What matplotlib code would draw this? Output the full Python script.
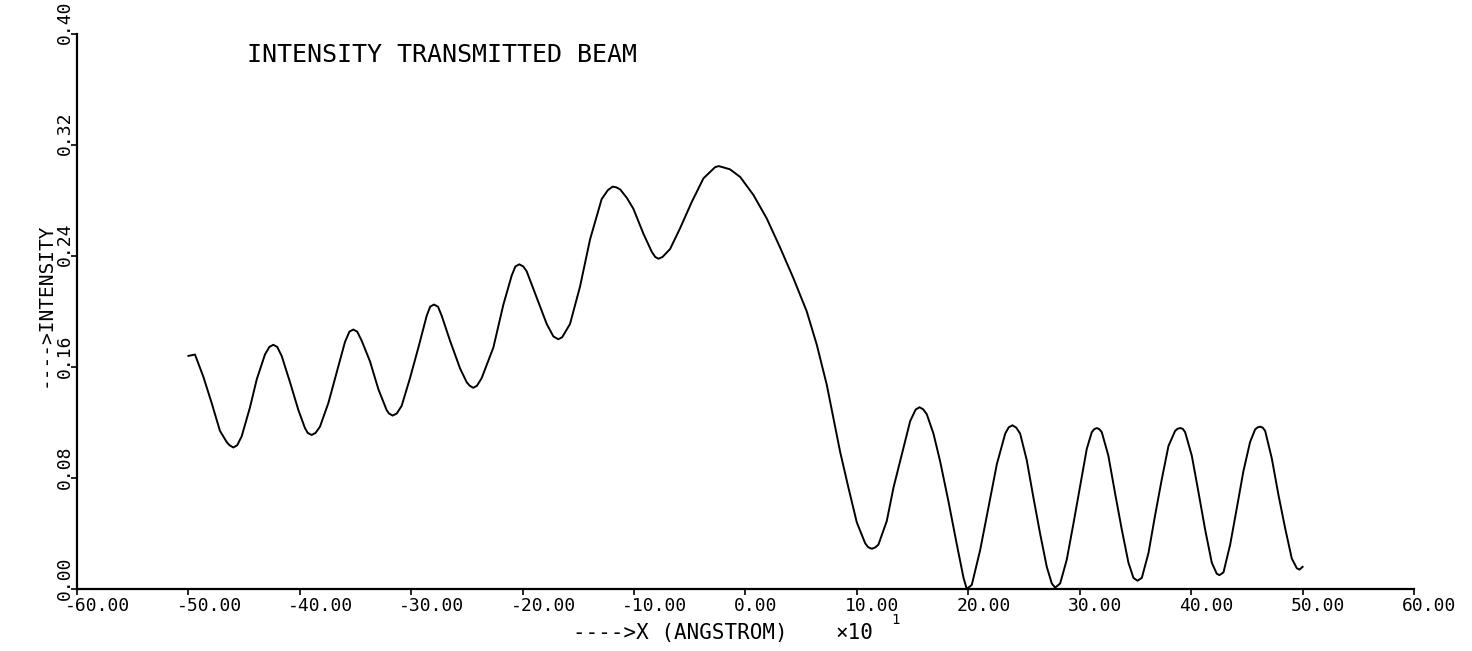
import numpy as np
import matplotlib
matplotlib.use("Agg")
import matplotlib.pyplot as plt
import matplotlib.transforms as mtransforms

plt.rcParams['font.family'] = ['DejaVu Sans Mono', 'DejaVu Sans']

# position along the beam, in units of 10 angstrom
x_pos = [
    -50.00, -49.41, -48.66, -47.91, -47.17, -46.57, -46.32, -45.97, -45.62, -45.22,
    -44.47, -43.87, -43.13, -42.73, -42.38, -42.03, -41.63, -40.88, -40.13, -39.54,
    -39.29, -38.94, -38.59, -38.19, -37.44, -36.69, -35.95, -35.55, -35.20, -34.85,
    -34.45, -33.70, -32.95, -32.21, -32.00, -31.67, -31.30, -30.86, -30.11, -29.36,
    -28.61, -28.30, -27.96, -27.60, -27.27, -26.52, -25.62, -25.02, -24.75, -24.43,
    -24.10, -23.68, -22.63, -21.73, -20.98, -20.65, -20.30, -19.95, -19.64, -18.74,
    -17.84, -17.24, -16.80, -16.45, -15.75, -14.85, -13.95, -12.91, -12.35, -11.92,
    -11.60, -11.25, -10.66, -10.06, -9.16, -8.41, -8.10, -7.81, -7.45, -6.77,
    -5.87, -4.82, -3.77, -2.73, -2.40, -2.04, -1.40, -0.48, 0.71, 1.91,
    3.11, 4.30, 5.50, 6.40, 7.30, 7.90, 8.49, 9.24, 9.99, 10.74,
    11.00, 11.34, 11.65, 11.93, 12.68, 13.28, 14.03, 14.78, 15.27, 15.62,
    15.95, 16.27, 16.87, 17.47, 18.22, 18.97, 19.57, 19.86, 20.31, 21.06,
    21.81, 22.56, 23.31, 23.62, 23.96, 24.30, 24.65, 25.24, 25.84, 26.44,
    27.04, 27.49, 27.79, 28.24, 28.83, 29.43, 30.03, 30.63, 31.08, 31.30,
    31.53, 31.76, 31.98, 32.57, 33.17, 33.77, 34.37, 34.82, 35.18, 35.57,
    36.17, 36.76, 37.36, 37.96, 38.56, 38.78, 39.01, 39.24, 39.46, 40.06,
    40.65, 41.25, 41.85, 42.30, 42.54, 42.90, 43.50, 44.09, 44.69, 45.29,
    45.74, 45.96, 46.19, 46.42, 46.64, 47.24, 47.83, 48.43, 49.03, 49.48,
    49.72, 50.00,
]

intensity = [
    0.168, 0.169, 0.153, 0.134, 0.114, 0.106, 0.1037, 0.102, 0.1036, 0.110,
    0.131, 0.151, 0.169, 0.1745, 0.176, 0.1745, 0.168, 0.149, 0.129, 0.116,
    0.1125, 0.111, 0.1125, 0.117, 0.134, 0.156, 0.178, 0.1855, 0.187, 0.1855,
    0.179, 0.164, 0.144, 0.129, 0.1265, 0.125, 0.1265, 0.132, 0.152, 0.174,
    0.197, 0.2035, 0.205, 0.2035, 0.197, 0.179, 0.159, 0.149, 0.1465, 0.145,
    0.1465, 0.152, 0.174, 0.205, 0.226, 0.2325, 0.234, 0.2325, 0.229, 0.210,
    0.191, 0.182, 0.180, 0.1815, 0.191, 0.218, 0.252, 0.281, 0.2875, 0.290,
    0.2895, 0.288, 0.282, 0.274, 0.256, 0.243, 0.2393, 0.238, 0.2393, 0.245,
    0.260, 0.279, 0.296, 0.304, 0.3048, 0.304, 0.3025, 0.297, 0.284, 0.267,
    0.246, 0.224, 0.200, 0.176, 0.147, 0.123, 0.099, 0.073, 0.048, 0.033,
    0.0302, 0.029, 0.030, 0.032, 0.049, 0.073, 0.097, 0.121, 0.1293, 0.131,
    0.1295, 0.126, 0.112, 0.092, 0.063, 0.032, 0.008, 0.000, 0.003, 0.028,
    0.059, 0.090, 0.112, 0.1165, 0.118, 0.1163, 0.112, 0.093, 0.066, 0.040,
    0.016, 0.004, 0.001, 0.004, 0.021, 0.047, 0.074, 0.101, 0.113, 0.1152,
    0.116, 0.1152, 0.113, 0.096, 0.069, 0.043, 0.019, 0.008, 0.006, 0.008,
    0.026, 0.053, 0.079, 0.103, 0.114, 0.1155, 0.116, 0.1155, 0.113, 0.096,
    0.070, 0.043, 0.019, 0.011, 0.010, 0.012, 0.032, 0.058, 0.085, 0.106,
    0.115, 0.1165, 0.117, 0.1163, 0.114, 0.094, 0.068, 0.044, 0.022, 0.015,
    0.014, 0.016,
]

x_ticks = [-60, -50, -40, -30, -20, -10, 0, 10, 20, 30, 40, 50, 60]
y_ticks = [0.00, 0.08, 0.16, 0.24, 0.32, 0.40]
x_tick_labels = ['%.2f' % v for v in x_ticks]
y_tick_labels = ['%.2f' % v for v in y_ticks]

fig = plt.figure(figsize=(14.72, 6.51), dpi=100)
ax = fig.add_axes([0.0523, 0.0952, 0.9083, 0.8526])

ax.plot(x_pos, intensity, color='black', lw=1.4, solid_joinstyle='round')

ax.set_xlim(-60, 60)
ax.set_ylim(0, 0.40)
ax.spines['top'].set_visible(False)
ax.spines['right'].set_visible(False)
ax.spines['left'].set_linewidth(1.6)
ax.spines['bottom'].set_linewidth(1.6)

ax.set_xticks(x_ticks)
ax.set_xticklabels(x_tick_labels, fontsize=13)
ax.set_yticks(y_ticks)
ax.set_yticklabels(y_tick_labels, fontsize=13, rotation=90)
ax.tick_params(axis='both', direction='out', length=4.5, width=1.2, color='black')
ax.tick_params(axis='x', pad=1.5)
ax.tick_params(axis='y', pad=-2)

# plotter-style labels start just before their tick
x_off = mtransforms.ScaledTranslation(-0.12, 0, fig.dpi_scale_trans)
for lab in ax.get_xticklabels():
    lab.set_ha('left')
    lab.set_transform(lab.get_transform() + x_off)
y_off = mtransforms.ScaledTranslation(0, -0.105, fig.dpi_scale_trans)
for lab in ax.get_yticklabels():
    lab.set_va('bottom')
    lab.set_transform(lab.get_transform() + y_off)

ax.set_ylabel('---->INTENSITY', fontsize=14)
ax.yaxis.label.set_va('center')
ax.yaxis.set_label_coords(-0.0235, 0.512)

ax.text(0.451, -0.079, '---->X (ANGSTROM)', transform=ax.transAxes,
        fontsize=15, ha='center', va='center')
ax.text(0.567, -0.079, '\u00d710', transform=ax.transAxes,
        fontsize=15, ha='left', va='center')
ax.text(0.609, -0.055, '1', transform=ax.transAxes,
        fontsize=10, ha='left', va='center')

ax.text(0.127, 0.962, 'INTENSITY TRANSMITTED BEAM', transform=ax.transAxes,
        fontsize=18, ha='left', va='center')

fig.savefig('out.png', dpi=100)
